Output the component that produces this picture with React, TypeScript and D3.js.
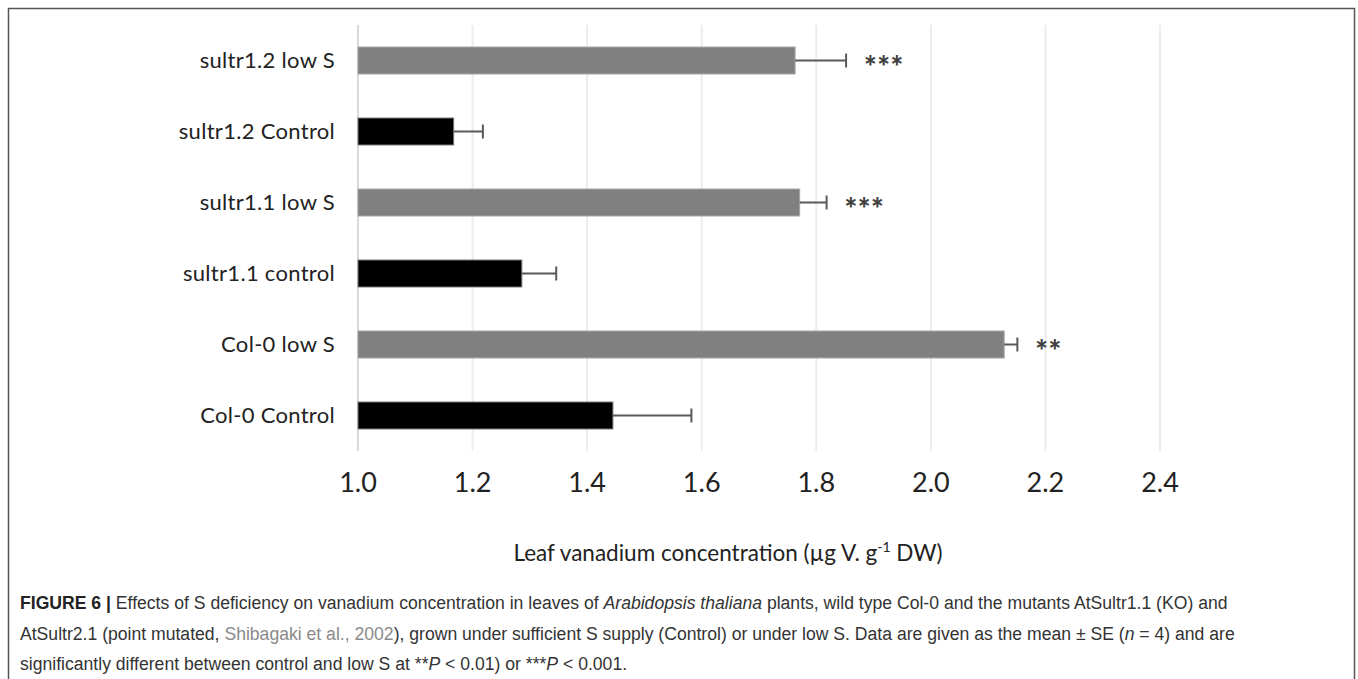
import React from 'react';
import * as d3 from 'd3';

// chart values (top to bottom)
const categories = [
  'sultr1.2 low S',
  'sultr1.2 Control',
  'sultr1.1 low S',
  'sultr1.1 control',
  'Col-0 low S',
  'Col-0 Control',
];
const treatment = ['low', 'control', 'low', 'control', 'low', 'control'];
const means = [1.763, 1.167, 1.771, 1.286, 2.128, 1.445];
const errors = [0.089, 0.051, 0.047, 0.06, 0.023, 0.137];
const stars = ['***', '', '***', '', '**', ''];
const xTicks = [1.0, 1.2, 1.4, 1.6, 1.8, 2.0, 2.2, 2.4];

const W = 1358;
const H = 679;

const App: React.FC = () => {
  const x = d3.scaleLinear().domain([1.0, 2.4]).range([358, 1160]);
  const y = d3.scaleBand<string>()
    .domain(categories)
    .range([25, 451])
    .paddingInner(0.62)
    .paddingOuter(0.31);

  const labelFont = 'Lato, "Open Sans", sans-serif';
  const capFont = '"Liberation Sans", Arial, sans-serif';

  return (
    <svg width={W} height={H} style={{ position: 'absolute', left: 0, top: 0 }}>
      <rect x={0} y={0} width={W} height={H} fill="#fff" />
      {/* frame */}
      <rect x={8.5} y={8.5} width={1346} height={690} fill="none" stroke="#555" strokeWidth={1.5} />

      {/* gridlines */}
      {xTicks.map(t => (
        <line key={t} x1={x(t)} x2={x(t)} y1={25} y2={451} stroke={t === 1 ? '#d9d9d9' : '#ececec'} strokeWidth={2} />
      ))}

      {/* bars */}
      {categories.map((c, i) => (
        <rect
          key={c}
          x={x(1)}
          y={y(c)}
          width={x(means[i]) - x(1)}
          height={y.bandwidth()}
          fill={treatment[i] === 'low' ? '#808080' : '#000'}
          stroke={treatment[i] === 'low' ? '#a6a6a6' : '#777'}
          strokeWidth={1}
        />
      ))}

      {/* error bars */}
      {categories.map((c, i) => {
        const cy = (y(c) ?? 0) + y.bandwidth() / 2;
        const xe = x(means[i] + errors[i]);
        return (
          <g key={c} stroke="#595959" strokeWidth={2}>
            <line x1={x(means[i])} x2={xe} y1={cy} y2={cy} />
            <line x1={xe} x2={xe} y1={cy - 7} y2={cy + 7} />
          </g>
        );
      })}

      {/* significance */}
      {categories.map((c, i) => stars[i] ? (
        <text
          key={c}
          x={x(means[i] + errors[i]) + 18}
          y={(y(c) ?? 0) + y.bandwidth() / 2 + 17}
          fontFamily={labelFont}
          fontWeight="900"
          fontSize={30}
          fill="#404040"
          letterSpacing={0.5}
        >{stars[i]}</text>
      ) : null)}

      {/* category labels */}
      {categories.map(c => (
        <text
          key={c}
          x={335}
          y={(y(c) ?? 0) + y.bandwidth() / 2}
          dy="0.35em"
          textAnchor="end"
          fontFamily={labelFont}
          fontSize={22}
          letterSpacing={0.3}
          fill="#222"
        >{c}</text>
      ))}

      {/* x tick labels */}
      {xTicks.map(t => (
        <text
          key={t}
          x={x(t)}
          y={492}
          textAnchor="middle"
          fontFamily={labelFont}
          fontSize={27}
          fill="#222"
        >{d3.format('.1f')(t)}</text>
      ))}

      {/* axis title */}
      <text x={728} y={561} textAnchor="middle" fontFamily={labelFont} fontSize={22.5} fill="#222">
        Leaf vanadium concentration (µg V. g<tspan dy={-9} fontSize={14}>-1</tspan><tspan dy={9}> DW)</tspan>
      </text>

      {/* caption */}
      <g fontFamily={capFont} fontSize={17.6} fill="#333">
        <text x={20} y={609}>
          <tspan fontWeight="bold" fill="#222">FIGURE 6 | </tspan>
          Effects of S deficiency on vanadium concentration in leaves of <tspan fontStyle="italic">Arabidopsis thaliana</tspan> plants, wild type Col-0 and the mutants AtSultr1.1 (KO) and
        </text>
        <text x={20} y={640}>
          AtSultr2.1 (point mutated, <tspan fill="#8a8a8a">Shibagaki et al., 2002</tspan>), grown under sufficient S supply (Control) or under low S. Data are given as the mean ± SE (<tspan fontStyle="italic">n</tspan> = 4) and are
        </text>
        <text x={20} y={670}>
          significantly different between control and low S at **<tspan fontStyle="italic">P</tspan> &lt; 0.01) or ***<tspan fontStyle="italic">P</tspan> &lt; 0.001.
        </text>
      </g>
    </svg>
  );
};

export default App;
